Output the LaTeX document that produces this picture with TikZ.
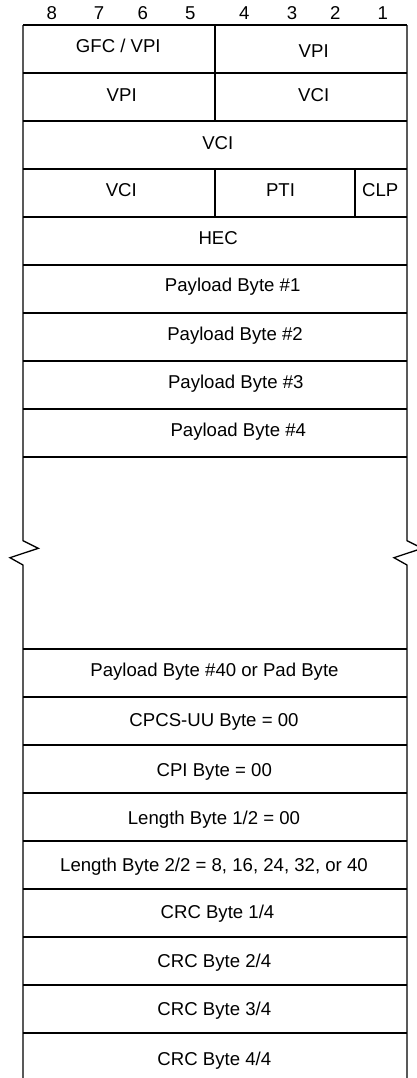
\documentclass[tikz,border=0pt]{standalone}
\usepackage{fontspec}
\setmainfont{Liberation Sans}
\usepackage{tikz}

\begin{document}
\begin{tikzpicture}[x=0.5pt,y=-0.5pt,line width=0.65pt,
    every node/.style={font=\fontsize{9.3}{11}\selectfont, inner sep=0pt, outer sep=0pt, anchor=base}]
            \clip (0,0) rectangle (417,1078);
            \foreach \b/\x in {8/51.7,7/99,6/142.8,5/190.4,4/244.3,3/292,2/335.3,1/382.7}
                \node (bit\b) at (\x,19) {\b};
            \foreach \y in {25,73,...,457} \draw (23,\y) -- (407,\y);
            \foreach \y in {649,697,...,1033} \draw (23,\y) -- (407,\y);
            \draw (23,25) -- (23,540.7) -- (38.3,548.3) -- (10,557.7) -- (23,565) -- (23,1090);
            \draw (407,25) -- (407,540.7) -- (422.3,548.3) -- (394,557.7) -- (407,565) -- (407,1090);
            \draw (215,25) -- (215,121);
            \draw (215,169) -- (215,217);
            \draw (355,169) -- (355,217);
            \node (gfc) at (118.3,52.3) {GFC / VPI};
            \node (vpiA) at (313.7,57.3) {VPI};
            \node (vpiB) at (121.7,101) {VPI};
            \node (vciA) at (313.7,101) {VCI};
            \node (vciB) at (217.8,149) {VCI};
            \node (vciC) at (121.3,196) {VCI};
            \node (pti) at (280.5,196) {PTI};
            \node (clp) at (380.2,196) {CLP};
            \node (hec) at (218.2,244.3) {HEC};
            \node (pay1) at (232.7,291.7) {Payload Byte \#1};
            \node (pay2) at (235,340) {Payload Byte \#2};
            \node (pay3) at (235.8,388.3) {Payload Byte \#3};
            \node (pay4) at (238.3,436.7) {Payload Byte \#4};
            \node (pay40) at (214.5,676) {Payload Byte \#40 or Pad Byte};
            \node (cpcs) at (214,726) {CPCS-UU Byte = 00};
            \node (cpi) at (214.3,776) {CPI Byte = 00};
            \node (lenA) at (214,824.3) {Length Byte 1/2 = 00};
            \node (lenB) at (214,871.7) {Length Byte 2/2 = 8, 16, 24, 32, or 40};
            \node (crc1) at (217.5,918.3) {CRC Byte 1/4};
            \node (crc2) at (214.3,967.7) {CRC Byte 2/4};
            \node (crc3) at (214.3,1015.7) {CRC Byte 3/4};
            \node (crc4) at (214.3,1065) {CRC Byte 4/4};
        \end{tikzpicture}
\end{document}
